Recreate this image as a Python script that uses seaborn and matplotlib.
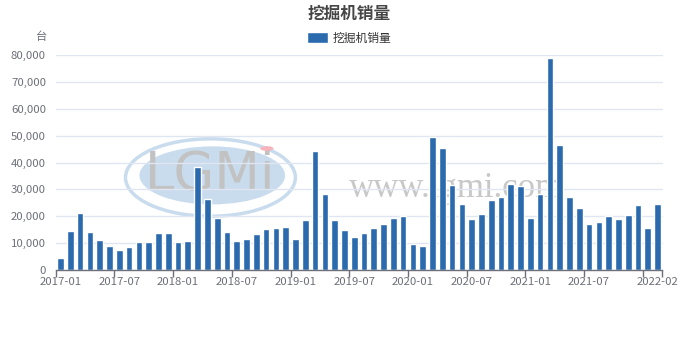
import matplotlib
matplotlib.use("Agg")
import matplotlib.pyplot as plt
from matplotlib.patches import Ellipse, Circle
from matplotlib.ticker import FuncFormatter, FixedLocator, NullFormatter
import seaborn as sns
import pandas as pd

# Monthly excavator sales (units), 2017-01 .. 2022-02
months = pd.date_range("2017-01", "2022-02", freq="MS").strftime("%Y-%m").tolist()
sales = [
    4400, 14400, 21200, 14300, 11000, 8800, 7400, 8500, 10300, 10400, 13700, 13900,
    10600, 10900, 38200, 26400, 19200, 14000, 10900, 11400, 13300, 15100, 15700, 15900,
    11500, 18600, 44200, 28300, 18700, 15000, 12300, 13800, 15600, 17000, 19200, 20100,
    9800, 9100, 49400, 45400, 31600, 24600, 19000, 20800, 25900, 27300, 32100, 31400,
    19500, 28200, 79000, 46500, 27000, 23000, 17200, 18000, 20000, 18900, 20300, 24100,
    15500, 24400,
]
series_name = "挖掘机销量"
title_text = "挖掘机销量"
unit_text = "台"

df = pd.DataFrame({"month": months, "sales": sales, "series": series_name})

sns.set_theme(style="white")
plt.rcParams["font.family"] = ["Noto Sans CJK SC", "DejaVu Sans"]

W, H = 698, 340
fig = plt.figure(figsize=(W / 100, H / 100), dpi=100)
ax = fig.add_axes([55.7 / W, 70 / H, (662.5 - 55.7) / W, 215 / H])

bar_color = "#2a6aad"
axis_color = "#6E7079"

# Watermark behind the bars
ax.add_patch(Ellipse((0.255, 0.43), 0.28, 0.36, transform=ax.transAxes,
                     fill=False, lw=2.5, ec="#c9dcee", zorder=0))
ax.add_patch(Ellipse((0.258, 0.44), 0.24, 0.27, transform=ax.transAxes,
                     fc="#c9dcee", ec="none", zorder=0))
ax.text(0.255, 0.44, "LGMi", transform=ax.transAxes, ha="center", va="center",
        fontsize=38, color="#c2c2c2", family="DejaVu Sans", zorder=0.5)
ax.add_patch(Circle((0.348, 0.565), 0.011, transform=ax.transAxes,
                    fc="#f6b3bb", ec="none", zorder=0.5))
ax.text(0.66, 0.38, "www.lgmi.com", transform=ax.transAxes, ha="center",
        va="center", fontsize=25, color="#c8c8c8", family="Liberation Serif",
        zorder=0.5)

sns.barplot(data=df, x="month", y="sales", hue="series", palette=[bar_color],
            width=0.68, saturation=1, ax=ax, zorder=2, legend=True)

n = len(months)
ax.set_xlim(-0.5, n - 0.5)
ax.set_ylim(0, 80000)

# y axis: gridlines only, labels with thousand separators
ax.yaxis.set_major_locator(FixedLocator(range(0, 80001, 10000)))
ax.yaxis.set_major_formatter(FuncFormatter(lambda v, p: f"{int(v):,}"))
ax.grid(axis="y", color="#E0E6F1", lw=1, zorder=1)
ax.tick_params(axis="y", length=0, pad=7, labelsize=8.2, labelcolor=axis_color)

# x axis: labels centred on bars (every 6 months plus the last month),
# ticks on category boundaries
label_idx = list(range(0, n - 6, 6)) + [n - 1]
ax.set_xticks(label_idx)
ax.set_xticklabels([months[i] for i in label_idx])
ax.set_xticks([i - 0.5 for i in range(0, n, 6)] + [n - 0.5], minor=True)
ax.xaxis.set_minor_formatter(NullFormatter())
ax.tick_params(axis="x", which="major", length=0, pad=5, labelsize=8.2,
               labelcolor=axis_color)
ax.tick_params(axis="x", which="minor", length=5, width=1, color=axis_color,
               bottom=True)
ax.set_xlabel("")
ax.set_ylabel("")

for s in ["top", "right", "left"]:
    ax.spines[s].set_visible(False)
ax.spines["bottom"].set_color(axis_color)
ax.spines["bottom"].set_linewidth(1)

fig.text(349 / W, 1 - 14 / H, title_text, ha="center", va="center",
         fontsize=12, fontweight="bold", color="#464646")
fig.text(42 / W, 1 - 37 / H, unit_text, ha="center", va="center",
         fontsize=8.2, color=axis_color)

leg = ax.legend(loc="center", bbox_to_anchor=(349 / W, 1 - 38 / H),
                bbox_transform=fig.transFigure, frameon=False, fontsize=8.5,
                handlelength=1.8, handleheight=1.0, handletextpad=0.4,
                borderpad=0)
for t in leg.get_texts():
    t.set_color("#333333")

fig.savefig("out.png", dpi=100)
